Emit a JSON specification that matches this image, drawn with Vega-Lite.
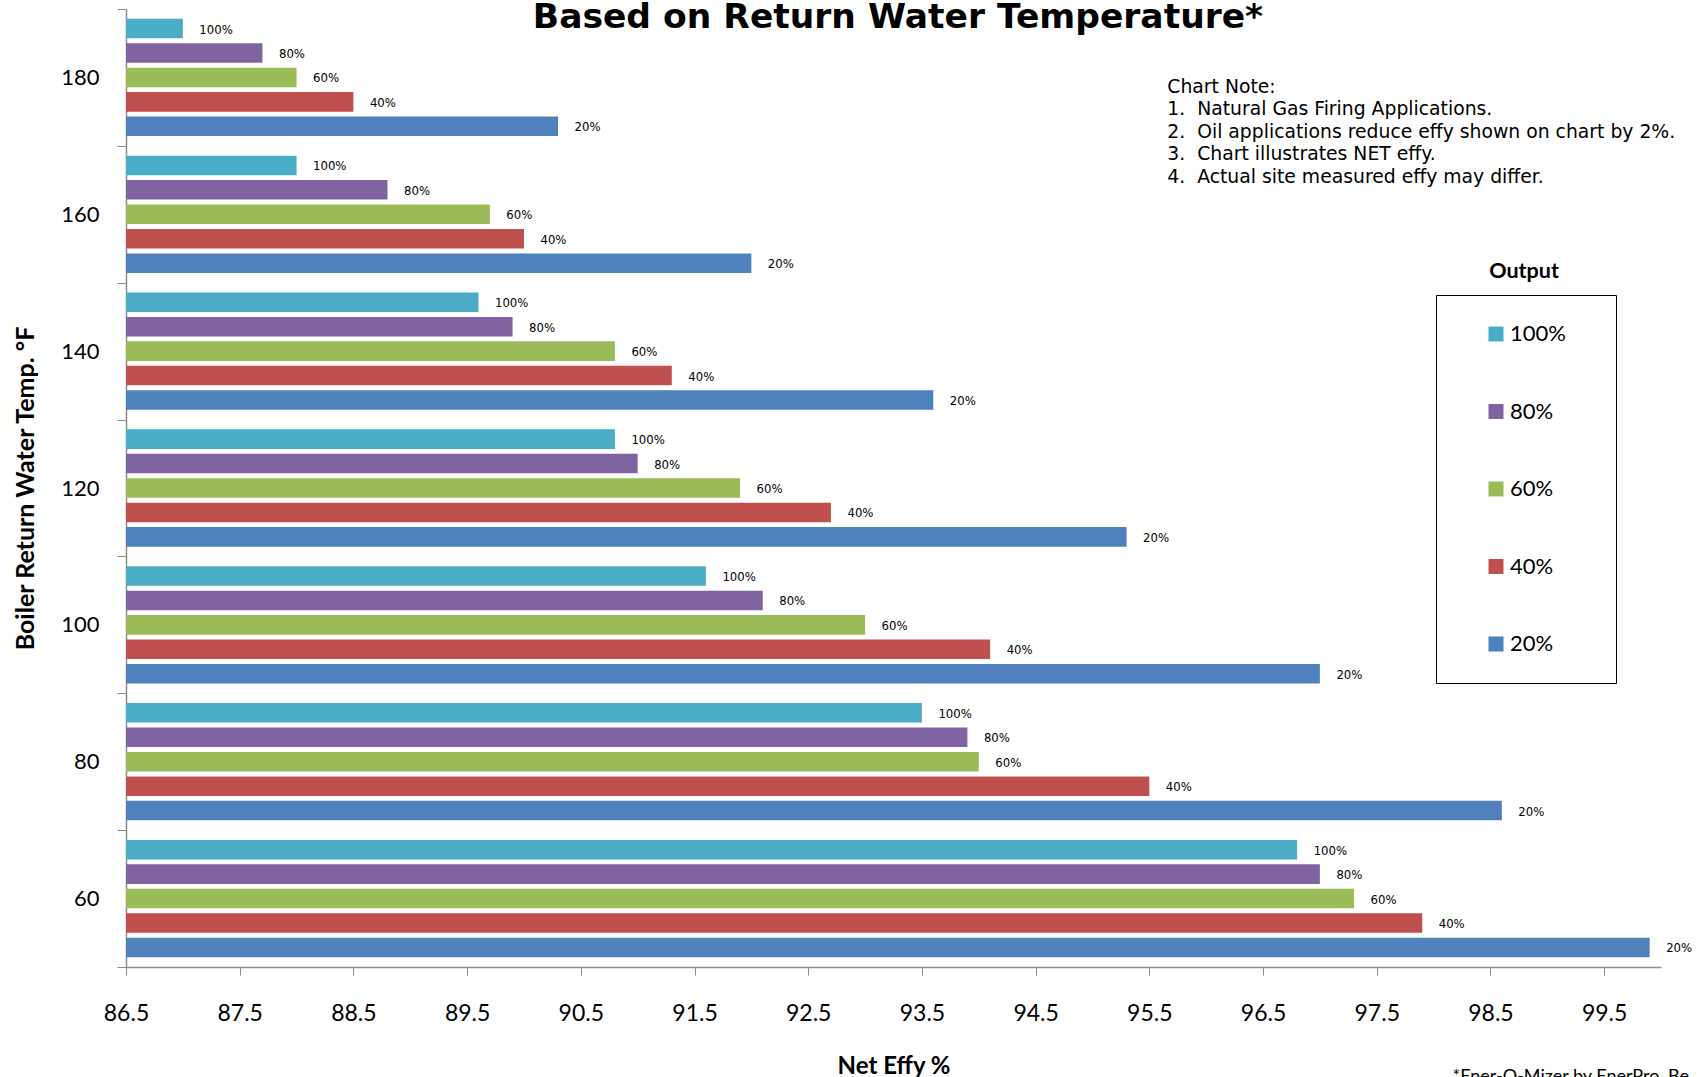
{
  "$schema": "https://vega.github.io/schema/vega-lite/v6.json",
  "width": 1535,
  "height": 958,
  "autosize": {"type": "none"},
  "padding": {"left": 126, "top": 9, "right": 41, "bottom": 110},
  "background": "white",
  "title": {
    "text": "Based on Return Water Temperature*",
    "anchor": "middle",
    "frame": "group",
    "font": "DejaVu Sans",
    "fontSize": 34.5,
    "fontWeight": "bold",
    "color": "black",
    "offset": -37,
    "dx": 4.5
  },
  "config": {
    "view": {"stroke": null},
    "axis": {"grid": false}
  },
  "resolve": {"axis": {"x": "independent"}},
  "layer": [
    {
      "data": {
        "values": [
          {"temp": 180, "output": "100%", "eff": 87.0},
          {"temp": 180, "output": "80%", "eff": 87.7},
          {"temp": 180, "output": "60%", "eff": 88.0},
          {"temp": 180, "output": "40%", "eff": 88.5},
          {"temp": 180, "output": "20%", "eff": 90.3},
          {"temp": 160, "output": "100%", "eff": 88.0},
          {"temp": 160, "output": "80%", "eff": 88.8},
          {"temp": 160, "output": "60%", "eff": 89.7},
          {"temp": 160, "output": "40%", "eff": 90.0},
          {"temp": 160, "output": "20%", "eff": 92.0},
          {"temp": 140, "output": "100%", "eff": 89.6},
          {"temp": 140, "output": "80%", "eff": 89.9},
          {"temp": 140, "output": "60%", "eff": 90.8},
          {"temp": 140, "output": "40%", "eff": 91.3},
          {"temp": 140, "output": "20%", "eff": 93.6},
          {"temp": 120, "output": "100%", "eff": 90.8},
          {"temp": 120, "output": "80%", "eff": 91.0},
          {"temp": 120, "output": "60%", "eff": 91.9},
          {"temp": 120, "output": "40%", "eff": 92.7},
          {"temp": 120, "output": "20%", "eff": 95.3},
          {"temp": 100, "output": "100%", "eff": 91.6},
          {"temp": 100, "output": "80%", "eff": 92.1},
          {"temp": 100, "output": "60%", "eff": 93.0},
          {"temp": 100, "output": "40%", "eff": 94.1},
          {"temp": 100, "output": "20%", "eff": 97.0},
          {"temp": 80, "output": "100%", "eff": 93.5},
          {"temp": 80, "output": "80%", "eff": 93.9},
          {"temp": 80, "output": "60%", "eff": 94.0},
          {"temp": 80, "output": "40%", "eff": 95.5},
          {"temp": 80, "output": "20%", "eff": 98.6},
          {"temp": 60, "output": "100%", "eff": 96.8},
          {"temp": 60, "output": "80%", "eff": 97.0},
          {"temp": 60, "output": "60%", "eff": 97.3},
          {"temp": 60, "output": "40%", "eff": 97.9},
          {"temp": 60, "output": "20%", "eff": 99.9}
        ]
      },
      "resolve": {"axis": {"x": "independent"}},
      "layer": [
        {
          "mark": {"type": "bar"},
          "encoding": {
            "x": {
              "field": "eff",
              "type": "quantitative",
              "scale": {"domain": [86.5, 100], "nice": false, "zero": false, "clamp": true},
              "axis": {
                "orient": "bottom",
                "values": [86.5, 87.5, 88.5, 89.5, 90.5, 91.5, 92.5, 93.5, 94.5, 95.5, 96.5, 97.5, 98.5, 99.5],
                "format": ".1f",
                "title": "Net Effy %",
                "titleFont": "Lato",
                "titleFontSize": 24,
                "titleFontWeight": "bold",
                "titleColor": "black",
                "titlePadding": 29,
                "labelFont": "Lato",
                "labelFontSize": 23,
                "labelColor": "black",
                "labelPadding": 27,
                "tickSize": 8,
                "tickColor": "#8c8c8c",
                "domainColor": "#8c8c8c",
                "domainWidth": 1.5,
                "labelFlush": false,
                "labelOverlap": false
              }
            },
            "y": {
              "field": "temp",
              "type": "ordinal",
              "scale": {"domain": [180, 160, 140, 120, 100, 80, 60], "paddingInner": 0, "paddingOuter": 0},
              "axis": {
                "title": "Boiler Return Water Temp. °F",
                "titleFont": "Lato",
                "titleFontSize": 25,
                "titleFontWeight": "bold",
                "titleColor": "black",
                "titlePadding": 22,
                "labelFont": "Lato",
                "labelFontSize": 22,
                "labelColor": "black",
                "labelPadding": 18,
                "tickBand": "extent",
                "tickSize": 9,
                "tickColor": "#8c8c8c",
                "domainColor": "#8c8c8c",
                "domainWidth": 1.5
              }
            },
            "yOffset": {
              "field": "output",
              "type": "nominal",
              "scale": {"domain": ["100%", "80%", "60%", "40%", "20%"], "paddingInner": 0.2, "paddingOuter": 0.4}
            },
            "color": {
              "field": "output",
              "type": "nominal",
              "scale": {
                "domain": ["100%", "80%", "60%", "40%", "20%"],
                "range": ["#4BACC6", "#8064A2", "#9BBB59", "#C0504D", "#4F81BD"]
              },
              "legend": {
                "title": " ",
                "titleOrient": "right",
                "titlePadding": 22,
                "titleFontSize": 1,
                "orient": "none",
                "legendX": 1310,
                "legendY": 286,
                "strokeColor": "black",
                "padding": 28,
                "symbolType": "square",
                "symbolSize": 225,
                "symbolOffset": 21,
                "symbolStrokeWidth": 0,
                "labelFont": "Lato",
                "labelFontSize": 22,
                "labelColor": "black",
                "labelOffset": 3,
                "rowPadding": 55.5
              }
            }
          }
        },
        {
          "mark": {"type": "text", "align": "left", "baseline": "middle", "dx": 16.5, "dy": 1, "font": "DejaVu Sans Condensed", "fontSize": 13, "color": "black"},
          "encoding": {
            "x": {
              "field": "eff",
              "type": "quantitative",
              "axis": {
                "orient": "bottom",
                "labels": false,
                "ticks": false,
                "domain": false,
                "grid": false,
                "title": "*Ener-Q-Mizer by EnerPro, Be",
                "titleX": 1326,
                "titleY": 100.5,
                "titleAlign": "left",
                "titleBaseline": "top",
                "titleFont": "Lato",
                "titleFontSize": 18,
                "titleFontWeight": "normal",
                "titleColor": "black"
              }
            },
            "y": {"field": "temp", "type": "ordinal"},
            "yOffset": {"field": "output", "type": "nominal"},
            "text": {"field": "output"}
          }
        }
      ]
    },
    {
      "data": {
        "values": [
          {"note": "Chart Note:\n1.\u00a0 Natural Gas Firing Applications.\n2.\u00a0 Oil applications reduce effy shown on chart by 2%.\n3.\u00a0 Chart illustrates NET effy.\n4.\u00a0 Actual site measured effy may differ."}
        ]
      },
      "mark": {"type": "text", "align": "left", "baseline": "alphabetic", "lineBreak": "\n", "lineHeight": 22.6, "font": "DejaVu Sans", "fontSize": 18.8, "color": "black"},
      "encoding": {
        "x": {"datum": 95.658, "type": "quantitative", "axis": null},
        "y": {"datum": 180, "type": "ordinal", "bandPosition": 0.6116},
        "text": {"field": "note"}
      }
    },
    {
      "data": {"values": [{"label": "Output"}]},
      "mark": {"type": "text", "align": "center", "baseline": "middle", "font": "Lato", "fontSize": 21.5, "fontWeight": "bold", "color": "black"},
      "encoding": {
        "x": {"datum": 98.796, "type": "quantitative", "axis": null},
        "y": {"datum": 160, "type": "ordinal", "bandPosition": 0.919},
        "text": {"field": "label"}
      }
    }
  ]
}
